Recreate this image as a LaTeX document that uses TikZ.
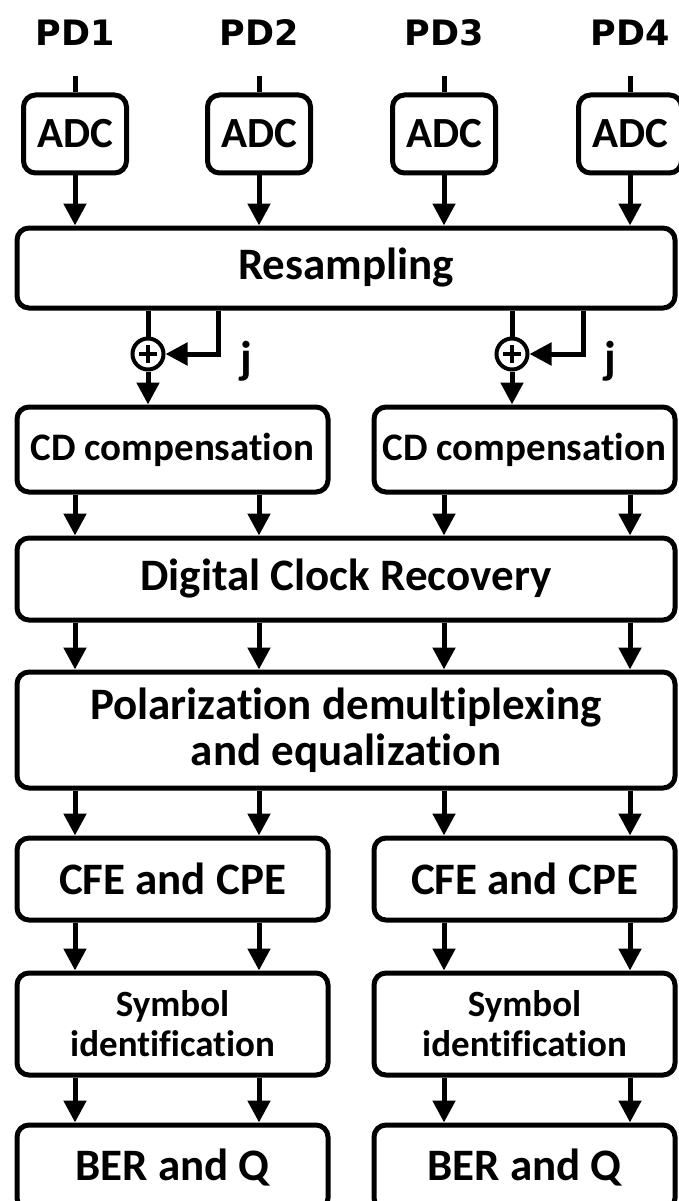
\documentclass[tikz,border=0pt]{standalone}
\usepackage{fontspec}
\setmainfont{Carlito}[Ligatures={TeX,NoCommon}]
\newfontfamily\pdfont{DejaVu Sans}
\usetikzlibrary{arrows.meta}
\begin{document}
\begin{tikzpicture}[x=1pt,y=-1pt,
  box/.style={draw,line width=5pt,rounded corners=12pt,align=center,inner sep=0pt,
    font=\bfseries\fontsize{45}{46}\selectfont},
  arr/.style={line width=5pt,-{Triangle[width=22pt,length=22pt]}},
  ln/.style={line width=5pt},
  pdlab/.style={font=\pdfont\bfseries\fontsize{35}{37}\selectfont},
  adcbox/.style={box,minimum width=103pt,minimum height=78pt,font=\bfseries\fontsize{43}{45}\selectfont},
  adder/.style={draw,circle,line width=4pt,minimum size=31pt,inner sep=0pt},
  jlab/.style={font=\bfseries\fontsize{46}{47}\selectfont}]
\useasboundingbox (0,0) rectangle (678,1201);

% columns
\coordinate (c1) at (75,0);
\coordinate (c2) at (259,0);
\coordinate (c3) at (444,0);
\coordinate (c4) at (630,0);

% PD labels, ADCs
\foreach \i/\x in {1/75,2/259,3/444,4/630}{
  \node[pdlab] (pd\i) at (\x,33) {PD\i};
  \coordinate (s\i) at (\x,76);
  \node[adcbox] (adc\i) at (\x,134) {ADC};
  \draw[ln] (s\i) -- (adc\i.north);
}

% Resampling
\node[box,minimum width=658pt,minimum height=80pt] (rs) at (346,268) {Resampling};
\foreach \i in {1,2,3,4}{
  \draw[arr] (adc\i.south) -- (rs.north -| adc\i);
}

% adders
\node[adder] (add1) at (148,354) {};
\node[adder] (add2) at (512,354) {};
\coordinate (f1) at (218,0);
\coordinate (f2) at (583,0);
\node[jlab] (j1) at (246,361) {j};
\node[jlab] (j2) at (610,361) {j};
\foreach \i in {1,2}{
  \draw[line width=3.4pt] ([xshift=-9pt]add\i.center) -- ([xshift=9pt]add\i.center);
  \draw[line width=3.4pt] ([yshift=-9pt]add\i.center) -- ([yshift=9pt]add\i.center);
  \draw[ln] (rs.south -| add\i) -- (add\i.north);
  \draw[arr] (rs.south -| f\i) |- (add\i.east);
}

% CD compensation
\node[box,minimum width=311pt,minimum height=85pt,font=\bfseries\fontsize{39}{41}\selectfont] (cd1) at (172.5,449.5) {CD compensation};
\node[box,minimum width=301pt,minimum height=85pt,font=\bfseries\fontsize{39}{41}\selectfont] (cd2) at (524.5,449.5) {CD compensation};
\draw[arr] (add1.south) -- (cd1.north -| add1);
\draw[arr] (add2.south) -- (cd2.north -| add2);

% Digital Clock Recovery
\node[box,minimum width=658pt,minimum height=82pt] (dcr) at (346,579) {Digital Clock Recovery};
\foreach \c/\b in {c1/cd1,c2/cd1,c3/cd2,c4/cd2}{
  \draw[arr] (\b.south -| \c) -- (dcr.north -| \c);
}

% Polarization
\node[box,minimum width=658pt,minimum height=116pt] (pol) at (346,730) {Polarization demultiplexing\\and equalization};
\foreach \c in {c1,c2,c3,c4}{
  \draw[arr] (dcr.south -| \c) -- (pol.north -| \c);
}

% CFE and CPE
\node[box,minimum width=311pt,minimum height=82pt] (cfe1) at (172.5,879) {CFE and CPE};
\node[box,minimum width=301pt,minimum height=82pt] (cfe2) at (524.5,879) {CFE and CPE};
\foreach \c/\b in {c1/cfe1,c2/cfe1,c3/cfe2,c4/cfe2}{
  \draw[arr] (pol.south -| \c) -- (\b.north -| \c);
}

% Symbol identification
\node[box,minimum width=311pt,minimum height=102pt,font=\bfseries\fontsize{37}{40}\selectfont] (sym1) at (172.5,1024) {Symbol\\identification};
\node[box,minimum width=301pt,minimum height=102pt,font=\bfseries\fontsize{37}{40}\selectfont] (sym2) at (524.5,1024) {Symbol\\identification};
\foreach \c/\a/\b in {c1/cfe1/sym1,c2/cfe1/sym1,c3/cfe2/sym2,c4/cfe2/sym2}{
  \draw[arr] (\a.south -| \c) -- (\b.north -| \c);
}

% BER and Q
\node[box,minimum width=311pt,minimum height=85pt] (ber1) at (172.5,1167.5) {BER and Q};
\node[box,minimum width=301pt,minimum height=85pt] (ber2) at (524.5,1167.5) {BER and Q};
\foreach \c/\a/\b in {c1/sym1/ber1,c2/sym1/ber1,c3/sym2/ber2,c4/sym2/ber2}{
  \draw[arr] (\a.south -| \c) -- (\b.north -| \c);
}
\end{tikzpicture}
\end{document}
